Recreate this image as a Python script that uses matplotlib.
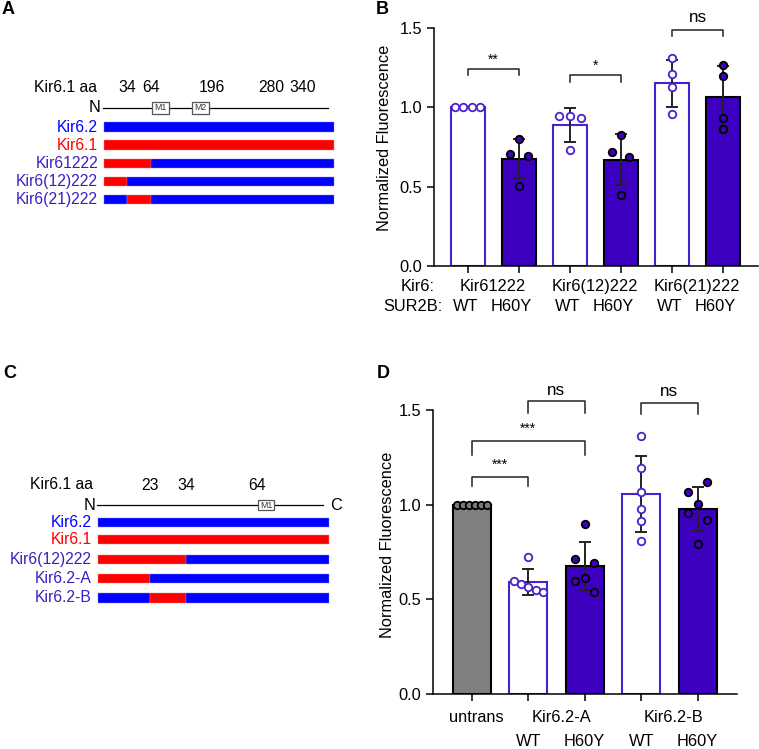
import numpy as np
import matplotlib
matplotlib.use("Agg")
import matplotlib.pyplot as plt
from matplotlib.patches import Rectangle

plt.rcParams['font.family'] = ['Liberation Sans', 'DejaVu Sans']

# ---------------- data ----------------
# Panel A schematic
a_aa = [34, 64, 196, 280, 340]
a_names = ['Kir6.2', 'Kir6.1', 'Kir61222', 'Kir6(12)222', 'Kir6(21)222']
# segments per construct: (start_aa, end_aa, origin) ; 0 = N-term, None = C-term
a_segments = [
    [(0, None, '6.2')],
    [(0, None, '6.1')],
    [(0, 64, '6.1'), (64, None, '6.2')],
    [(0, 34, '6.1'), (34, None, '6.2')],
    [(0, 34, '6.2'), (34, 64, '6.1'), (64, None, '6.2')],
]
# Panel C schematic
c_aa = [23, 34, 64]
c_names = ['Kir6.2', 'Kir6.1', 'Kir6(12)222', 'Kir6.2-A', 'Kir6.2-B']
c_segments = [
    [(0, None, '6.2')],
    [(0, None, '6.1')],
    [(0, 34, '6.1'), (34, None, '6.2')],
    [(0, 23, '6.1'), (23, None, '6.2')],
    [(0, 23, '6.2'), (23, 34, '6.1'), (34, None, '6.2')],
]

# Panel B
b_kir6 = ['Kir61222', 'Kir6(12)222', 'Kir6(21)222']
b_sur = ['WT', 'H60Y', 'WT', 'H60Y', 'WT', 'H60Y']
b_points = [
    [1.0, 1.0, 1.0, 1.0],
    [0.800, 0.709, 0.694, 0.505],
    [0.947, 0.947, 0.930, 0.728],
    [0.827, 0.717, 0.688, 0.450],
    [1.309, 1.210, 1.126, 0.959],
    [1.267, 1.199, 0.932, 0.863],
]
b_sig = [(0, 1, '**'), (2, 3, '*'), (4, 5, 'ns')]

# Panel D
d_groups = ['untrans', 'Kir6.2-A', 'Kir6.2-B']
d_sur = ['', 'WT', 'H60Y', 'WT', 'H60Y']
d_points = [
    [1.0, 1.0, 1.0, 1.0, 1.0, 1.0],
    [0.726, 0.598, 0.582, 0.564, 0.547, 0.540],
    [0.900, 0.712, 0.693, 0.596, 0.614, 0.540],
    [1.363, 1.196, 1.069, 0.976, 0.913, 0.809],
    [1.118, 1.069, 1.004, 0.958, 0.921, 0.790],
]
d_sig = [(0, 1, '***'), (0, 2, '***'), (1, 2, 'ns'), (3, 4, 'ns')]

# ---------------- layout / style ----------------
W, H = 759, 749
fig = plt.figure(figsize=(W / 100, H / 100), dpi=100)

BLUE = '#0000FF'
RED = '#FF0000'
PURP_TXT = '#3C1EC3'
PURP = '#3D00C0'
OPEN = '#4A22CC'
FS = 11.3


def px_axes(x0, y0, x1, y1):
    return fig.add_axes([x0 / W, 1 - y1 / H, (x1 - x0) / W, (y1 - y0) / H])


seg_col = {'6.2': BLUE, '6.1': RED}
lab_col = {'Kir6.2': BLUE, 'Kir6.1': RED}


def diagram(ax, names, segments, aa, aa_x, rows, line_y, num_y, boxes, box_h,
            bar_h, label_x, aa_lab_x, aa_lab_y, n_x, c_x=None):
    ax.set_xlim(0, 100)
    ax.set_ylim(4, 0)
    ax.axis('off')
    pos = dict(zip(aa, aa_x))
    for r, segs in zip(rows, segments):
        for s, e, o in segs:
            x0 = 0 if s == 0 else pos[s]
            x1 = 100 if e is None else pos[e]
            ax.barh(r, x1 - x0, left=x0, height=bar_h, color=seg_col[o],
                    edgecolor='#8080ff' if o == '6.2' else '#ff8080',
                    linewidth=0.3, clip_on=False)
    for r, n in zip(rows, names):
        ax.text(label_x, r, n, ha='right', va='center', fontsize=FS,
                color=lab_col.get(n, PURP_TXT), clip_on=False)
    ax.plot([-0.4, 97.4], [line_y, line_y], color='k', lw=0.9, clip_on=False)
    for bx0, bx1, t in boxes:
        ax.add_patch(Rectangle((bx0, line_y - box_h / 2), bx1 - bx0, box_h,
                               facecolor='white', edgecolor='#555555', lw=0.9,
                               clip_on=False, zorder=3))
        ax.text((bx0 + bx1) / 2, line_y, t, ha='center', va='center',
                fontsize=6.3, color='#333333', zorder=4)
    for a, x in zip(aa, aa_x):
        ax.text(x, num_y, str(a), ha='center', va='center', fontsize=FS)
    ax.text(aa_lab_x, aa_lab_y, 'Kir6.1 aa', ha='right', va='center', fontsize=FS)
    ax.text(n_x, line_y, 'N', ha='center', va='center', fontsize=FS + 0.5)
    if c_x is not None:
        ax.text(c_x, line_y, 'C', ha='center', va='center', fontsize=FS + 0.5)


# Panel A
axA = px_axes(104, 127, 334, 199.5)
diagram(axA, a_names, a_segments, a_aa, [10.2, 20.6, 47.0, 72.6, 86.5],
        rows=[0, 1, 2, 3, 4], line_y=-1.06, num_y=-2.17,
        boxes=[(20.9, 28.3, 'M1'), (38.3, 45.7, 'M2')], box_h=0.64,
        bar_h=0.52, label_x=-2.6, aa_lab_x=-3.0, aa_lab_y=-2.17, n_x=-3.9)

# Panel C
axC = px_axes(98, 522.7, 329, 598)
diagram(axC, c_names, c_segments, c_aa, [22.7, 38.2, 69.0],
        rows=[0, 0.885, 1.95, 2.97, 4.0], line_y=-0.94, num_y=-1.95,
        boxes=[(69.3, 76.2, 'M1')], box_h=0.58,
        bar_h=0.5, label_x=-2.6, aa_lab_x=-2.2, aa_lab_y=-2.05, n_x=-3.77,
        c_x=103)


def bar_panel(ax, points, fills, edges, pt_face, pt_edge, jitter, xlim):
    x = np.arange(len(points))
    means = [np.mean(p) for p in points]
    sds = [np.std(p, ddof=1) for p in points]
    ax.bar(x, means, width=0.67, color=fills, edgecolor=edges, linewidth=1.5, zorder=2)
    ax.errorbar(x, means, yerr=sds, fmt='none', ecolor='#222222', elinewidth=1.4,
                capsize=4.2, capthick=1.4, zorder=3)
    for i, p in enumerate(points):
        ax.plot(i + np.array(jitter[i]), p, 'o', ms=5.4, mfc=pt_face[i],
                mec=pt_edge[i], mew=1.3, zorder=4, clip_on=False)
    ax.set_xlim(*xlim)
    ax.set_ylim(0, 1.5)
    ax.set_yticks([0, 0.5, 1.0, 1.5])
    ax.set_yticklabels(['0.0', '0.5', '1.0', '1.5'])
    ax.set_xticks(x)
    ax.set_xticklabels([])
    for s in ['top', 'right']:
        ax.spines[s].set_visible(False)
    for s in ['left', 'bottom']:
        ax.spines[s].set_linewidth(1.1)
    ax.tick_params(axis='both', length=5, width=1.1, labelsize=FS + 0.5, direction='out')
    ax.set_ylabel('Normalized Fluorescence', fontsize=FS + 0.5)


def bracket(ax, x1, x2, y, drop, text, fs, ty):
    ax.plot([x1, x1, x2, x2], [y - drop, y, y, y - drop], color='#222222', lw=1.1,
            clip_on=False)
    ax.text((x1 + x2) / 2, ty, text, ha='center', va='center', fontsize=fs,
            clip_on=False)


def xlab(ax, x, dy, t):
    ax.annotate(t, xy=(x, 0), xycoords=('data', 'axes fraction'), xytext=(0, -dy),
                textcoords='offset pixels', ha='center', va='center', fontsize=FS + 0.5,
                annotation_clip=False)


# Panel B
axB = px_axes(434, 28, 758, 266)
b_jit = [[-0.248, -0.085, 0.085, 0.248], [0, -0.17, 0.17, 0], [-0.215, 0, 0.215, 0],
         [0, -0.17, 0.165, 0], [0, 0, 0, 0], [0, 0, 0, 0]]
fillsB = ['white', PURP] * 3
edgesB = [OPEN, 'black'] * 3
faceB = ['white', PURP] * 3
pedgeB = [OPEN, 'black'] * 3
bar_panel(axB, b_points, fillsB, edgesB, faceB, pedgeB, b_jit, (-0.66, 5.68))
axB.yaxis.set_label_coords(-0.13, 0.54)
b_br_y = [1.241, 1.201, 1.49]
b_txt_y = [1.30, 1.265, 1.565]
for (i, j, t), y, ty in zip(b_sig, b_br_y, b_txt_y):
    bracket(axB, i, j, y, 0.04, t, 10 if '*' in t else FS + 1, ty)
xlab(axB, -0.98, 20.7, 'Kir6:')
xlab(axB, -1.07, 40.7, 'SUR2B:')
for k, g in enumerate(b_kir6):
    xlab(axB, 2 * k + 0.48, 20.7, g)
for k, s in enumerate(b_sur):
    xlab(axB, k - (0.04 if s == 'WT' else 0.15), 40.7, s)

# Panel D
axD = px_axes(433, 410, 737, 694)
d_jit = [[-0.265, -0.16, -0.053, 0.053, 0.16, 0.265],
         [0, -0.254, -0.124, 0, 0.13, 0.254],
         [0, -0.165, 0.165, -0.165, 0, 0.165],
         [0, 0, 0, 0, 0, 0],
         [0.165, -0.165, 0, -0.165, 0.165, 0]]
fillsD = ['#808080', 'white', PURP, 'white', PURP]
edgesD = ['black', OPEN, 'black', OPEN, 'black']
faceD = ['#7a7a7a', 'white', PURP, 'white', PURP]
pedgeD = ['black', OPEN, 'black', OPEN, 'black']
bar_panel(axD, d_points, fillsD, edgesD, faceD, pedgeD, d_jit, (-0.685, 4.696))
axD.yaxis.set_label_coords(-0.125, 0.525)
d_br_y = [1.148, 1.338, 1.549, 1.535]
d_drop = [0.05, 0.076, 0.067, 0.058]
d_txt_y = [1.21, 1.40, 1.605, 1.60]
for (i, j, t), y, dr, ty in zip(d_sig, d_br_y, d_drop, d_txt_y):
    bracket(axD, i, j, y, dr, t, 10 if '*' in t else FS + 1, ty)
xlab(axD, 0.09, 23, d_groups[0])
xlab(axD, 1.58, 23, d_groups[1])
xlab(axD, 3.57, 23, d_groups[2])
for k, s in enumerate(d_sur):
    if s:
        xlab(axD, k, 47, s)

# Panel letters
for t, x, y in [('A', 2, 1), ('B', 376, 1), ('C', 3, 365), ('D', 377, 365)]:
    fig.text(x / W, 1 - y / H, t, ha='left', va='top', fontsize=13, fontweight='bold')

fig.savefig('out.png', dpi=100)
